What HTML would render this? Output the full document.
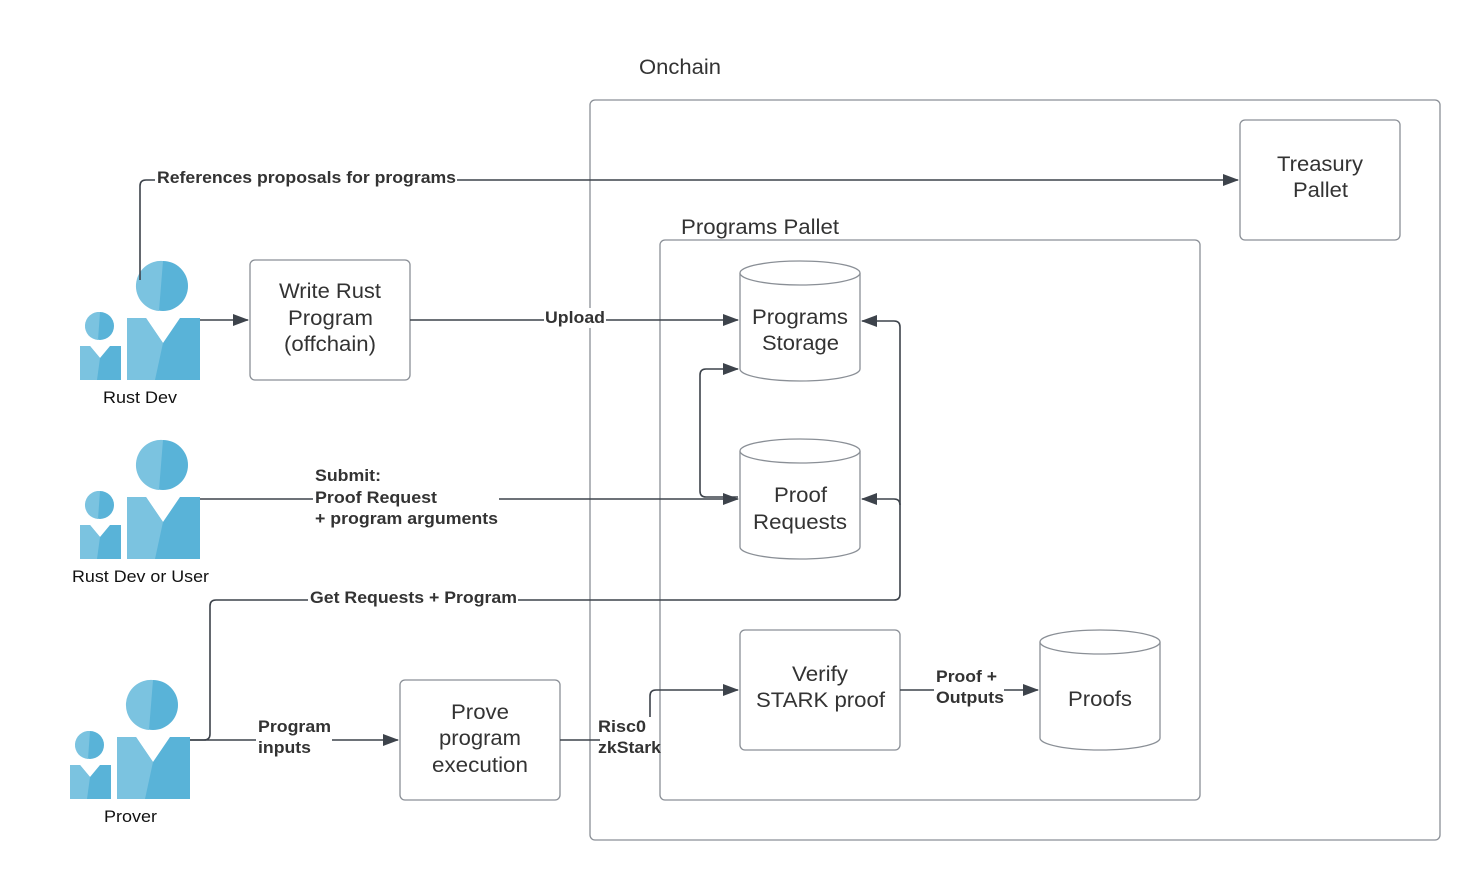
<!DOCTYPE html>
<html><head><meta charset="utf-8"><style>
html,body{margin:0;padding:0;background:#fff}
svg{display:block}
text{font-family:"Liberation Sans",sans-serif}
.t{font-size:21px;fill:#333}
.b{font-size:16.5px;font-weight:bold;fill:#333}
.l{font-size:17px;fill:#111}
.box{fill:#fff;stroke:#8a8f96;stroke-width:1.3}
.ln{fill:none;stroke:#3d434b;stroke-width:1.6}
</style></head><body>
<svg width="1480" height="880" viewBox="0 0 1480 880" xmlns="http://www.w3.org/2000/svg">
<defs>
<marker id="a" markerWidth="16" markerHeight="12" refX="15" refY="6" orient="auto" markerUnits="userSpaceOnUse">
<path d="M0,0 L16,6 L0,12 Z" fill="#3d434b"/></marker>
<g id="p">
<circle cx="163" cy="286" r="25" fill="#59b3d8"/>
<path d="M163,261 A25,25 0 0 0 159,311 Z" fill="#7bc3e0"/>
<path d="M127,318 H146 L163,343 L180,318 H200 V380 H127 Z" fill="#59b3d8"/>
<path d="M127,318 H146 L163,343 L155,380 H127 Z" fill="#7bc3e0"/>
<circle cx="100" cy="326" r="14" fill="#59b3d8"/>
<path d="M100,312 A14,14 0 0 0 98,340 Z" fill="#7bc3e0"/>
<path d="M80,346 H90 L100,358 L110,346 H121 V380 H80 Z" fill="#59b3d8"/>
<path d="M80,346 H90 L100,358 L97,380 H80 Z" fill="#7bc3e0"/>
</g>
</defs>

<text x="639" y="74" class="t" textLength="82" lengthAdjust="spacingAndGlyphs">Onchain</text>
<rect class="box" x="590" y="100" width="850" height="740" rx="5"/>
<text x="681" y="234" class="t" textLength="158" lengthAdjust="spacingAndGlyphs">Programs Pallet</text>
<rect class="box" x="660" y="240" width="540" height="560" rx="5"/>

<rect class="box" x="1240" y="120" width="160" height="120" rx="5"/>
<text class="t" x="1277" y="171" textLength="86" lengthAdjust="spacingAndGlyphs">Treasury</text><text class="t" x="1293" y="197" textLength="55" lengthAdjust="spacingAndGlyphs">Pallet</text>

<rect class="box" x="250" y="260" width="160" height="120" rx="5"/>
<text class="t" x="279" y="298" textLength="102" lengthAdjust="spacingAndGlyphs">Write Rust</text><text class="t" x="288" y="325" textLength="85" lengthAdjust="spacingAndGlyphs">Program</text><text class="t" x="284" y="351" textLength="92" lengthAdjust="spacingAndGlyphs">(offchain)</text>

<rect class="box" x="740" y="630" width="160" height="120" rx="5"/>
<text class="t" x="792" y="681" textLength="56" lengthAdjust="spacingAndGlyphs">Verify</text><text class="t" x="756" y="707" textLength="129" lengthAdjust="spacingAndGlyphs">STARK proof</text>

<rect class="box" x="400" y="680" width="160" height="120" rx="5"/>
<text class="t" x="451" y="719" textLength="58" lengthAdjust="spacingAndGlyphs">Prove</text><text class="t" x="439" y="745" textLength="82" lengthAdjust="spacingAndGlyphs">program</text><text class="t" x="432" y="772" textLength="96" lengthAdjust="spacingAndGlyphs">execution</text>

<g>
<path class="box" d="M740,273 A60,12 0 0 1 860,273 V369 A60,12 0 0 1 740,369 Z"/>
<path class="box" d="M740,273 A60,12 0 0 0 860,273"/>
<text class="t" x="752" y="324" textLength="96" lengthAdjust="spacingAndGlyphs">Programs</text><text class="t" x="762" y="350" textLength="77" lengthAdjust="spacingAndGlyphs">Storage</text>
</g>
<g>
<path class="box" d="M740,451 A60,12 0 0 1 860,451 V547 A60,12 0 0 1 740,547 Z"/>
<path class="box" d="M740,451 A60,12 0 0 0 860,451"/>
<text class="t" x="774" y="502" textLength="53" lengthAdjust="spacingAndGlyphs">Proof</text><text class="t" x="753" y="529" textLength="94" lengthAdjust="spacingAndGlyphs">Requests</text>
</g>
<g>
<path class="box" d="M1040,642 A60,12 0 0 1 1160,642 V738 A60,12 0 0 1 1040,738 Z"/>
<path class="box" d="M1040,642 A60,12 0 0 0 1160,642"/>
<text class="t" x="1068" y="706" textLength="64" lengthAdjust="spacingAndGlyphs">Proofs</text>
</g>

<use href="#p"/>
<use href="#p" transform="translate(0,179)"/>
<use href="#p" transform="translate(-10,419)"/>
<text class="l" x="103" y="403" textLength="74" lengthAdjust="spacingAndGlyphs">Rust Dev</text>
<text class="l" x="72" y="582" textLength="137" lengthAdjust="spacingAndGlyphs">Rust Dev or User</text>
<text class="l" x="104" y="822" textLength="53" lengthAdjust="spacingAndGlyphs">Prover</text>

<path class="ln" d="M140,280 V186 Q140,180 146,180 H1238" marker-end="url(#a)"/>
<path class="ln" d="M200,320 H248" marker-end="url(#a)"/>
<path class="ln" d="M410,320 H738" marker-end="url(#a)"/>
<path class="ln" d="M200,499 H738" marker-end="url(#a)"/>
<path class="ln" d="M738,497 H706 Q700,497 700,491 V375 Q700,369 706,369 H738" marker-end="url(#a)"/>
<path class="ln" d="M190,740 H204 Q210,740 210,734 V606 Q210,600 216,600 H894 Q900,600 900,594 V327 Q900,321 894,321 H862" marker-end="url(#a)"/>
<path class="ln" d="M900,505 Q900,499 894,499 H862" marker-end="url(#a)"/>
<path class="ln" d="M190,740 H398" marker-end="url(#a)"/>
<path class="ln" d="M560,740 H600"/>
<path class="ln" d="M650,717 V696 Q650,690 656,690 H738" marker-end="url(#a)"/>
<path class="ln" d="M900,690 H1038" marker-end="url(#a)"/>

<rect x="155" y="166" width="302" height="20" fill="#fff"/>
<text class="b" x="157" y="183" textLength="299" lengthAdjust="spacingAndGlyphs">References proposals for programs</text>
<rect x="544" y="308" width="62" height="20" fill="#fff"/>
<text class="b" x="545" y="323" textLength="60" lengthAdjust="spacingAndGlyphs">Upload</text>
<rect x="313" y="464" width="186" height="66" fill="#fff"/>
<text class="b" x="315" y="481" textLength="66" lengthAdjust="spacingAndGlyphs">Submit:</text>
<text class="b" x="315" y="503" textLength="122" lengthAdjust="spacingAndGlyphs">Proof Request</text>
<text class="b" x="315" y="524" textLength="183" lengthAdjust="spacingAndGlyphs">+ program arguments</text>
<rect x="308" y="588" width="210" height="20" fill="#fff"/>
<text class="b" x="310" y="603" textLength="207" lengthAdjust="spacingAndGlyphs">Get Requests + Program</text>
<rect x="256" y="716" width="76" height="44" fill="#fff"/>
<text class="b" x="258" y="732" textLength="73" lengthAdjust="spacingAndGlyphs">Program</text>
<text class="b" x="258" y="753" textLength="53" lengthAdjust="spacingAndGlyphs">inputs</text>
<text class="b" x="598" y="732" textLength="48" lengthAdjust="spacingAndGlyphs">Risc0</text>
<text class="b" x="598" y="753" textLength="63" lengthAdjust="spacingAndGlyphs">zkStark</text>
<rect x="934" y="666" width="70" height="42" fill="#fff"/>
<text class="b" x="936" y="682" textLength="61" lengthAdjust="spacingAndGlyphs">Proof +</text>
<text class="b" x="936" y="703" textLength="68" lengthAdjust="spacingAndGlyphs">Outputs</text>
</svg>
</body></html>
